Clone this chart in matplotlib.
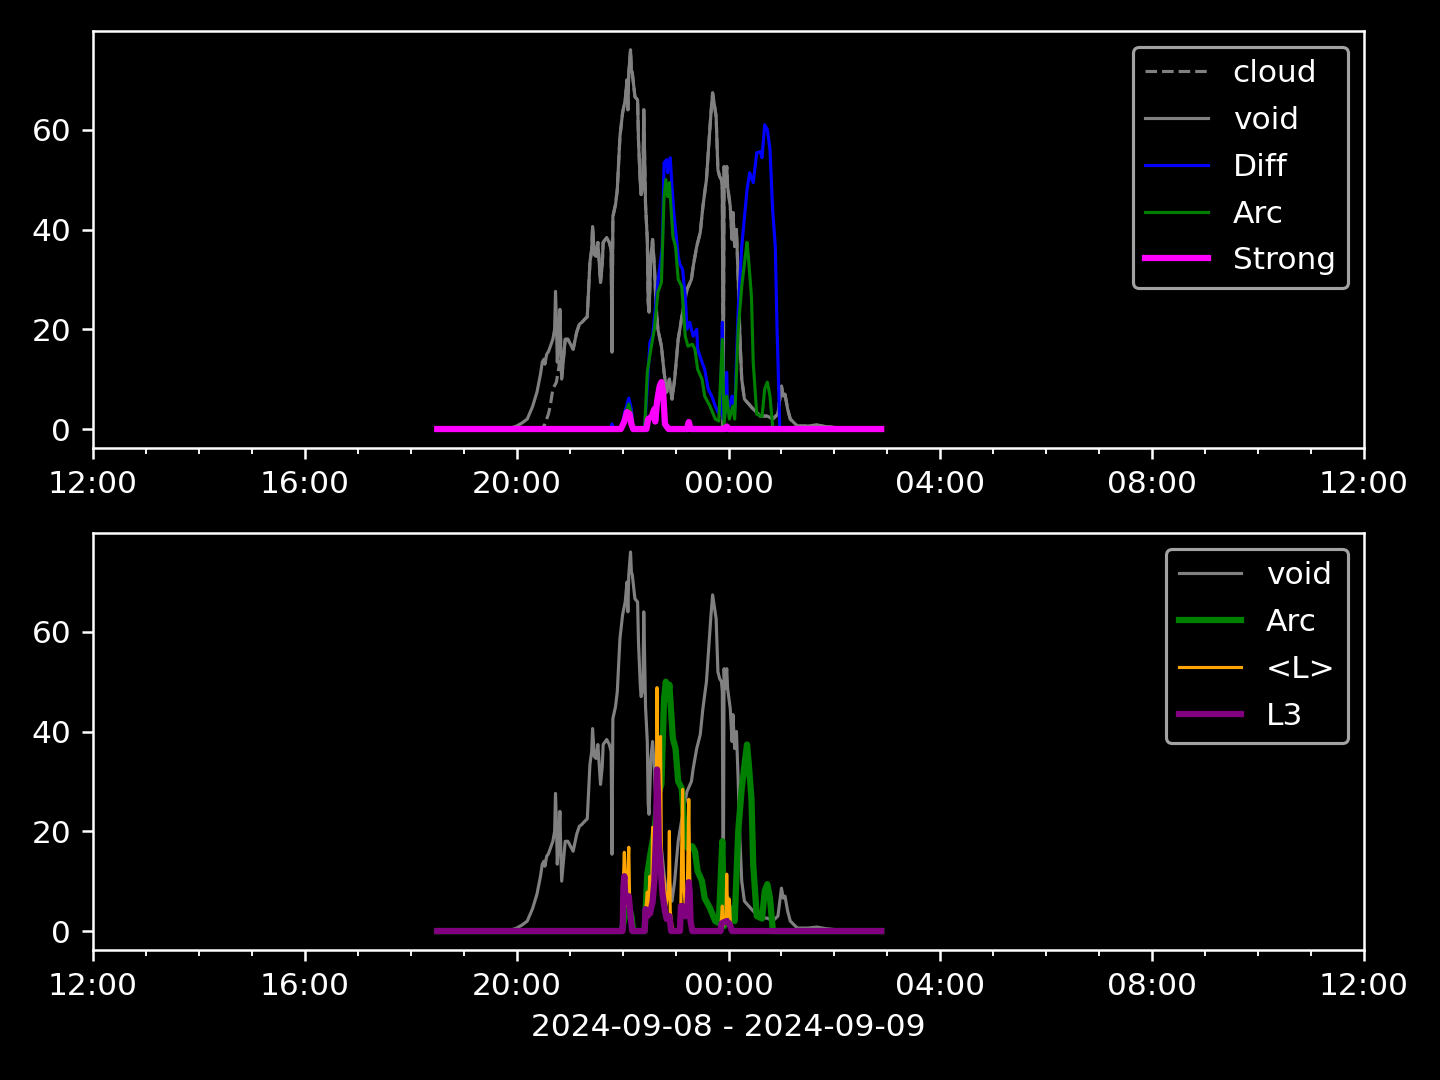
import matplotlib
matplotlib.use("Agg")
import matplotlib.pyplot as plt
import matplotlib.dates as mdates
from datetime import datetime

plt.style.use("dark_background")

# ---------------- data ----------------
void_t = ["18:30","19:45","19:55","20:00","20:06","20:12","20:18","20:23","20:27","20:29","20:31","20:32",
          "20:34","20:36","20:39","20:41","20:43","20:44","20:45","20:46","20:48","20:49","20:50","20:51",
          "20:53","20:55","20:58","21:01","21:04","21:08","21:11","21:14","21:17","21:20","21:23","21:25",
          "21:26","21:28","21:30","21:32","21:35","21:37","21:38","21:42","21:45","21:47","21:48","21:49",
          "21:52","21:54","21:57","22:00","22:03","22:05","22:06","22:07","22:09","22:10","22:11","22:14",
          "22:17","22:18","22:20","22:21","22:23","22:24","22:26","22:28","22:29","22:30","22:32","22:34",
          "22:36","22:38","22:40","22:44","22:47","22:50","22:53","22:56","22:59","23:03","23:08","23:13",
          "23:18","23:20","23:24","23:28","23:31","23:35","23:38","23:40","23:42","23:44","23:46","23:48",
          "23:50","23:52","23:53","23:54","23:55","23:56","23:58","23:59","00:02","00:04","00:05","00:07",
          "00:09","00:11","00:13","00:15","00:18","00:21","00:28","00:36","00:44","00:50","00:56","01:00",
          "01:02","01:04","01:07","01:10","01:18","01:30","01:40","01:50","02:00","02:53"]
void_v = [0,0,0.3,0.6,1.2,2,4.5,7.4,11,13.4,14,13,
          15,15.5,17,18,20,27.6,22,13.4,20,24,16,10,
          14,18,18,17,16,19.4,21,21.4,22,22.5,33.4,36,
          40.6,35,34.6,37.4,29.4,33,37.4,38.4,37.4,36,15.4,42.6,
          45,48,58.6,63.4,66,70,64,71.4,76,72,71.4,66.6,
          66,58,49.4,47,48.6,64,45,38,25.4,23.4,34.6,38,
          32.6,24.6,20,16.6,11.4,7.4,10,6,10,18,23.4,28,
          30,32.6,36.6,39.4,44.6,50,58,63,67.4,65,62.6,52,
          50.6,50,48,0.6,52.6,48.6,52.6,48.6,44.6,38,43.4,36.6,
          40,30,18,10,6,5.4,4,2.6,2.6,2,3,8.6,
          6.6,7,4,2,0.6,0.6,0.8,0.5,0.3,0.2]

cloud_early_t = ["18:30","20:29","20:32","20:36","20:38","20:41","20:45","20:48"]
cloud_early_v = [0,0,1,3,4.6,8,9.4,12.6]

diff_t = ["18:30","21:46","21:48","21:50","21:59","22:02","22:07","22:10","22:12","22:25","22:28","22:31",
          "22:34","22:37","22:40","22:45","22:47","22:50","22:51","22:54","22:56","22:58","23:00","23:03",
          "23:05","23:08","23:11","23:13","23:16","23:20","23:24","23:25","23:30","23:33","23:37","23:41",
          "23:45","23:48","23:51","23:53","23:54","23:58","23:59","00:04","00:07","00:11","00:15","00:21",
          "00:24","00:28","00:32","00:36","00:38","00:41","00:44","00:47","00:50","00:53","00:55","00:56",
          "00:58","01:00","02:53"]
diff_v = [0,0,1,0,0,3,6.2,4,0,0,8.6,17.4,
          18.6,24,29.4,36.6,53.4,54,51.4,54.4,48.6,43.4,40,34.6,
          33,32,26.6,20,21.4,18.6,20,16,13.4,12,8,6.6,
          4.6,3.4,3,21.4,2,11.4,3.4,6.6,3.4,24,36.6,48,
          51.4,49.4,55.4,55.6,54.4,61,60,56,44,36.6,20,14,
          0.6,0,0]

arc_t = ["18:30","21:59","22:02","22:07","22:10","22:12","22:25","22:28","22:32","22:36","22:40","22:44",
         "22:47","22:49","22:51","22:53","22:57","23:00","23:03","23:07","23:11","23:14","23:19","23:22",
         "23:25","23:30","23:33","23:39","23:45","23:49","23:53","23:55","23:58","00:01","00:05","00:07",
         "00:11","00:15","00:19","00:21","00:23","00:26","00:28","00:32","00:38","00:41","00:44","00:47",
         "00:50","00:51","02:53"]
arc_v = [0,0,2.5,5,3,0,0,11.4,16,20,27.4,29.4,
         46.6,50,46.6,49.4,38.6,36.6,30,28.6,18.6,16.6,17,16,
         12,10,6.6,4.6,2,1.6,18,1,6.6,2,4.6,2,
         20,28.6,34.6,37.4,33.4,26.6,13.4,3,2.5,8,9.4,6.6,
         0.6,0,0]

strong_t = ["18:30","21:58","22:02","22:05","22:08","22:10","22:12","22:27","22:29","22:33","22:36","22:37",
            "22:39","22:42","22:44","22:46","22:48","22:52","23:13","23:15","23:17","23:56","23:58","00:00","02:53"]
strong_v = [0,0,1.5,3.4,3,1,0,0,2,2.5,4,1.5,
            5.4,8.6,9.4,7.4,1,0,0,1.4,0,0,0.5,0,0]

lavg_t = ["18:30","21:59","22:02","22:03","22:05","22:07","22:08","22:09","22:11",
          "22:25","22:26","22:28","22:29","22:31","22:33","22:34","22:35","22:37","22:38","22:39","22:40",
          "22:41","22:42","22:43","22:44","22:45","22:47","22:49","22:52","22:53","22:54","22:56","22:58",
          "23:05","23:06","23:08","23:09","23:11","23:13","23:15","23:16","23:17","23:19",
          "23:51","23:53","23:54","23:57","23:58","23:59","00:01","00:02","00:04","02:53"]
lavg_v = [0,0,15.8,5,8,16.8,6,3,0,
          0,3.8,7.8,4,11,8,20.8,10,14,20,48.8,30,
          37.8,25,39,15,12,10,5,8,20,4,1,0,
          0,5,28.4,10,5,4,26.4,12,3,0,
          0,5,1,2,11.4,3,6.4,2,0,0]

l3_t = ["18:30","22:00","22:01","22:02","22:03","22:05","22:07","22:09","22:11",
        "22:25","22:26","22:28","22:31","22:34","22:36","22:38","22:39","22:40","22:41","22:43","22:45",
        "22:48","22:50","22:53","22:55",
        "23:05","23:06","23:08","23:10","23:13","23:15","23:16","23:17","23:19",
        "23:51","23:52","23:55","23:58","00:01","00:04","02:53"]
l3_v = [0,0,9,11,7,6,7,3,0,
        0,4.4,3,3.5,5.8,10,20,32.4,27.8,18,13,7.8,
        4,2.4,3,0,
        0,5,5,3,3,9.8,8,2,0,
        0,1.5,1.8,2,1.5,0,0]

xlabel = "2024-09-08 - 2024-09-09"


def to_dt(s):
    h, m = map(int, s.split(":"))
    day = 8 if h >= 12 else 9
    return datetime(2024, 9, day, h, m)


def conv(ts):
    return [to_dt(s) for s in ts]


void_x = conv(void_t)
idx = void_t.index("20:49")
cloud_x = conv(cloud_early_t) + void_x[idx:]
cloud_v = cloud_early_v + void_v[idx:]

fig, (ax1, ax2) = plt.subplots(2, 1, figsize=(6.4, 4.8), dpi=225)
fig.subplots_adjust(left=93 / 1440, right=1364 / 1440, top=1 - 31 / 1080,
                    bottom=1 - 950 / 1080, hspace=0.204)

ax1.plot(cloud_x, cloud_v, color="gray", ls="--", lw=1, label="cloud")
ax1.plot(void_x, void_v, color="gray", lw=1, label="void")
ax1.plot(conv(diff_t), diff_v, color="blue", lw=1, label="Diff")
ax1.plot(conv(arc_t), arc_v, color="green", lw=1, label="Arc")
ax1.plot(conv(strong_t), strong_v, color="magenta", lw=2, label="Strong")
ax1.legend(loc="upper right", labelspacing=0.57)

ax2.plot(void_x, void_v, color="gray", lw=1, label="void")
ax2.plot(conv(arc_t), arc_v, color="green", lw=2, label="Arc")
ax2.plot(conv(lavg_t), lavg_v, color="orange", lw=1, label="<L>")
ax2.plot(conv(l3_t), l3_v, color="purple", lw=2, label="L3")
ax2.legend(loc="upper right", labelspacing=0.57)

for ax in (ax1, ax2):
    ax.set_xlim(datetime(2024, 9, 8, 12, 0), datetime(2024, 9, 9, 12, 0))
    ax.xaxis.set_major_locator(mdates.HourLocator(byhour=range(0, 24, 4)))
    ax.xaxis.set_minor_locator(mdates.HourLocator())
    ax.xaxis.set_major_formatter(mdates.DateFormatter("%H:%M"))
    ax.set_yticks([0, 20, 40, 60])

ax2.set_xlabel(xlabel)
fig.savefig("out.png", dpi=225)
